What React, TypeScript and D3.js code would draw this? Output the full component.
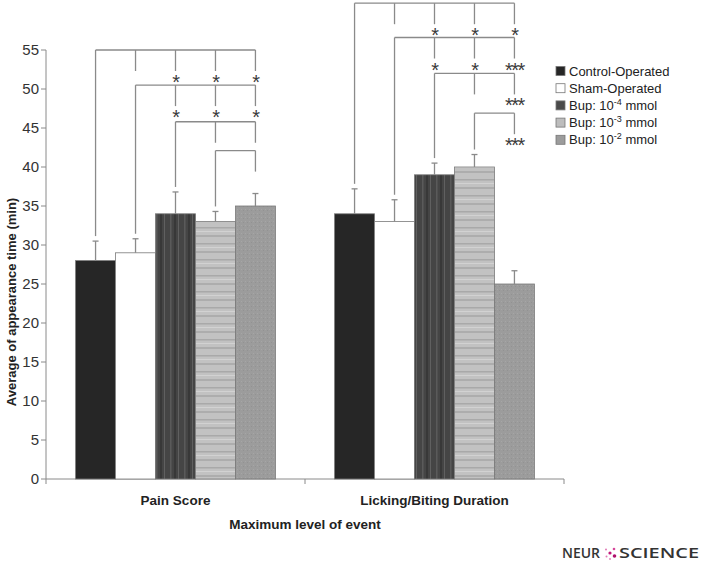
import * as d3 from 'd3';

// categories and series
const categories = ['Pain Score', 'Licking/Biting Duration'];
const series = ['Control-Operated', 'Sham-Operated', 'Bup: 10-4 mmol', 'Bup: 10-3 mmol', 'Bup: 10-2 mmol'];

// mean values per category (same order as series)
const painMeans = [28, 29, 34, 33, 35];
const lickMeans = [34, 33, 39, 40, 25];
// top of error bars
const painErr = [30.5, 30.8, 36.8, 34.3, 36.6];
const lickErr = [37.2, 35.8, 40.5, 41.6, 26.7];

const yTicks = [0, 5, 10, 15, 20, 25, 30, 35, 40, 45, 50, 55];

// significance brackets: reference bar, compared bars, bracket level (data units), stars per compared bar
const painBrackets = [
  { from: 0, to: [1, 2, 3, 4], level: 55, stars: ['', '*', '*', '*'] },
  { from: 1, to: [2, 3, 4], level: 50.5, stars: ['*', '*', '*'] },
  { from: 2, to: [3, 4], level: 45.8, stars: ['', ''] },
  { from: 3, to: [4], level: 42.1, stars: [''] },
];
const lickBrackets = [
  { from: 0, to: [1, 2, 3, 4], level: 61, stars: ['', '*', '*', '*'] },
  { from: 1, to: [2, 3, 4], level: 56.6, stars: ['*', '*', '***'] },
  { from: 2, to: [3, 4], level: 52, stars: ['', '***'] },
  { from: 3, to: [4], level: 46.9, stars: ['***'] },
];

const W = 701;
const H = 564;
const fills = ['#262626', '#ffffff', 'url(#vstripe)', 'url(#hstripe)', 'url(#speckle)'];
const legendSwatch = ['#262626', '#ffffff', '#4a4a4a', '#bdbdbd', '#9c9c9c'];
const lineCol = '#8a8a8a';
const font = 'Arial, "Liberation Sans", Helvetica, sans-serif';

export default function App() {
  const y = d3.scaleLinear().domain([0, 55]).range([479, 50]);
  const x0 = d3.scaleBand().domain(categories).range([46, 564]);
  const x1 = d3.scaleBand().domain(series).range([0, x0.bandwidth()]).paddingOuter(0.74);
  const bw = x1.bandwidth();

  const groups = [
    { cat: categories[0], means: painMeans, err: painErr, brackets: painBrackets },
    { cat: categories[1], means: lickMeans, err: lickErr, brackets: lickBrackets },
  ];

  const cx = (cat: string, i: number) => (x0(cat) as number) + (x1(series[i]) as number) + bw / 2;
  const drop = 21;

  return (
    <svg width={W} height={H} style={{ position: 'absolute', left: 0, top: 0, background: '#fff' }} fontFamily={font}>
      <defs>
        <pattern id="vstripe" width="14" height="10" patternUnits="userSpaceOnUse">
          <rect width="14" height="10" fill="#454545" />
          <rect x="2" width="1.5" height="10" fill="#5a5a5a" />
          <rect x="6" width="2" height="10" fill="#383838" />
          <rect x="10" width="1" height="10" fill="#606060" />
        </pattern>
        <pattern id="hstripe" width="10" height="16" patternUnits="userSpaceOnUse">
          <rect width="10" height="16" fill="#c2c2c2" />
          <rect y="3" width="10" height="1.5" fill="#a9a9a9" />
          <rect y="7" width="10" height="1" fill="#d2d2d2" />
          <rect y="11" width="10" height="2" fill="#adadad" />
        </pattern>
        <pattern id="speckle" width="4" height="4" patternUnits="userSpaceOnUse">
          <rect width="4" height="4" fill="#9c9c9c" />
          <rect x="1" y="1" width="1" height="1" fill="#a6a6a6" />
          <rect x="3" y="2" width="1" height="1" fill="#929292" />
        </pattern>
      </defs>

      {/* y axis */}
      <line x1={46} x2={46} y1={y(55)} y2={y(0)} stroke={lineCol} />
      {yTicks.map(t => (
        <g key={t}>
          <line x1={41} x2={46} y1={y(t)} y2={y(t)} stroke={lineCol} />
          <text x={39} y={y(t)} dy="0.35em" textAnchor="end" fontSize={15} fill="#333">{t}</text>
        </g>
      ))}
      <text transform={`translate(16,302) rotate(-90)`} textAnchor="middle" fontSize={13} fontWeight="bold" fill="#222">
        Average of appearance time (min)
      </text>

      {/* x axis */}
      <line x1={46} x2={564} y1={y(0)} y2={y(0)} stroke={lineCol} />
      {[46, 564, ...categories.slice(1).map(c => x0(c) as number)].map((v, i) => (
        <line key={i} x1={v} x2={v} y1={y(0)} y2={y(0) + 5} stroke={lineCol} />
      ))}
      {categories.map(c => (
        <text key={c} x={(x0(c) as number) + x0.bandwidth() / 2} y={505} textAnchor="middle" fontSize={13.5} fontWeight="bold" fill="#222">{c}</text>
      ))}
      <text x={305} y={529} textAnchor="middle" fontSize={13.5} fontWeight="bold" fill="#222">Maximum level of event</text>

      {groups.map(g => (
        <g key={g.cat}>
          {g.means.map((v, i) => {
            const xl = (x0(g.cat) as number) + (x1(series[i]) as number);
            return (
              <g key={i}>
                <rect x={xl} y={y(v)} width={bw} height={y(0) - y(v)} fill={fills[i]} stroke="#7a7a7a" strokeWidth={0.8} />
                <line x1={xl + bw / 2} x2={xl + bw / 2} y1={y(v)} y2={y(g.err[i])} stroke={lineCol} strokeWidth={1.3} />
                <line x1={xl + bw / 2 - 3} x2={xl + bw / 2 + 3} y1={y(g.err[i])} y2={y(g.err[i])} stroke={lineCol} strokeWidth={1.3} />
              </g>
            );
          })}
          {g.brackets.map((b, bi) => {
            const ly = y(b.level);
            const xs = cx(g.cat, b.from);
            const xe = cx(g.cat, b.to[b.to.length - 1]);
            return (
              <g key={bi} stroke={lineCol} strokeWidth={1.3}>
                <line x1={xs} x2={xe} y1={ly} y2={ly} />
                <line x1={xs} x2={xs} y1={ly} y2={y(g.err[b.from]) - 5} />
                {b.to.map((t, ti) => (
                  <g key={t}>
                    <line x1={cx(g.cat, t)} x2={cx(g.cat, t)} y1={ly} y2={ly + drop} />
                    {b.stars[ti] && (
                      <text x={cx(g.cat, t)} y={ly + drop + 18} textAnchor="middle" fontSize={20} fill="#3a3a3a" stroke="none" letterSpacing={-1.5}>
                        {b.stars[ti]}
                      </text>
                    )}
                  </g>
                ))}
              </g>
            );
          })}
        </g>
      ))}

      {/* legend */}
      {series.map((s, i) => {
        const ly = 71 + i * 17.2;
        const m = s.match(/^(Bup: 10)(-\d)( mmol)$/);
        return (
          <g key={s}>
            <rect x={556} y={ly - 4.5} width={9} height={9} fill={legendSwatch[i]} stroke="#777" strokeWidth={0.8} />
            <text x={569} y={ly} dy="0.35em" fontSize={13} fill="#222">
              {m ? (
                <>
                  {m[1]}
                  <tspan dy={-5} fontSize={9}>{m[2]}</tspan>
                  <tspan dy={5}>{m[3]}</tspan>
                </>
              ) : s}
            </text>
          </g>
        );
      })}

      {/* journal logo */}
      <g fontFamily='"Open Sans", Arial, sans-serif' fontSize={14} fontWeight={600} fill="#333">
        <text x={562} y={558} textLength={38} lengthAdjust="spacingAndGlyphs">NEUR</text>
        <circle cx={610} cy={553} r={1.6} fill="#c2187a" />
        <circle cx={614} cy={549} r={1.3} fill="#d6479a" />
        <circle cx={614.5} cy={556} r={1.8} fill="#b0106c" />
        <circle cx={606} cy={549.5} r={1} fill="#e07ab6" />
        <circle cx={606.5} cy={556.5} r={1} fill="#e07ab6" />
        <circle cx={610} cy={559} r={0.9} fill="#e07ab6" />
        <text x={619} y={558} textLength={80} lengthAdjust="spacingAndGlyphs">SCIENCE</text>
      </g>
    </svg>
  );
}
